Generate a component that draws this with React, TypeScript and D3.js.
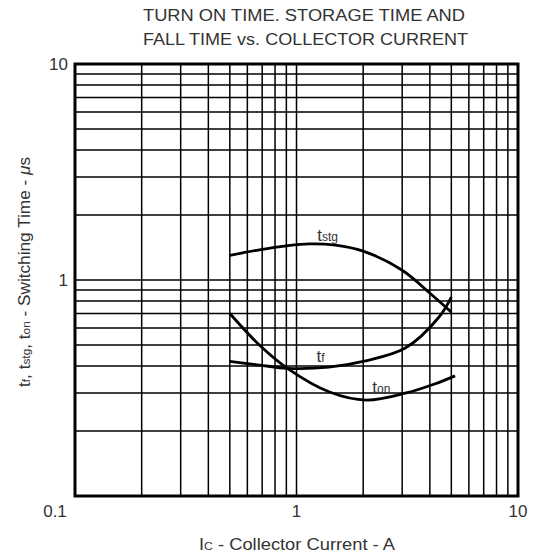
import React from "react";
import * as d3 from "d3";

const W = 536;
const H = 556;

// Ic (A) values
const tstgX = [0.5, 0.68, 0.9, 1.14, 1.5, 2.0, 3.0, 4.1, 5.0];
const tstgY = [1.3, 1.38, 1.44, 1.47, 1.45, 1.36, 1.11, 0.85, 0.71];

const tfX = [0.5, 0.68, 0.91, 1.4, 2.0, 3.1, 4.4, 5.0];
const tfY = [0.42, 0.404, 0.39, 0.395, 0.42, 0.484, 0.674, 0.834];

const tonX = [0.5, 0.68, 0.91, 1.41, 2.07, 3.13, 4.2, 5.2];
const tonY = [0.7, 0.5, 0.39, 0.303, 0.278, 0.3, 0.33, 0.36];

const gridTicks = [0.2, 0.3, 0.4, 0.5, 0.6, 0.7, 0.8, 0.9, 1, 2, 3, 4, 5, 6, 7, 8, 9];
const xLabels = [1, 10];
const yLabels = [1, 10];

const M = { left: 75, right: 518, top: 64, bottom: 496 };
const FONT = "'Liberation Sans', Arial, sans-serif";
const TXT = "#333";

export default function App() {
  const x = d3.scaleLog().domain([0.1, 10]).range([M.left, M.right]);
  const y = d3.scaleLog().domain([0.1, 10]).range([M.bottom, M.top]);

  const line = d3
    .line<[number, number]>()
    .x((d) => x(d[0]))
    .y((d) => y(d[1]))
    .curve(d3.curveCatmullRom.alpha(0.5));

  const pts = (xs: number[], ys: number[]) => xs.map((v, i) => [v, ys[i]] as [number, number]);

  return (
    <svg width={W} height={H} style={{ position: "absolute", left: 0, top: 0 }}>
      <rect width={W} height={H} fill="#fff" />
      <g fontFamily={FONT} fill={TXT} textAnchor="middle" fontSize={16}>
        <text x={304} y={21} textLength={322} lengthAdjust="spacingAndGlyphs">
          TURN ON TIME. STORAGE TIME AND
        </text>
        <text x={305.5} y={45} textLength={325} lengthAdjust="spacingAndGlyphs">
          FALL TIME vs. COLLECTOR CURRENT
        </text>
      </g>

      {/* grid */}
      <g stroke="#000" strokeWidth={1.5}>
        {gridTicks.map((t) => (
          <line key={"v" + t} x1={x(t)} x2={x(t)} y1={M.top} y2={M.bottom} />
        ))}
        {gridTicks.map((t) => (
          <line key={"h" + t} x1={M.left} x2={M.right} y1={y(t)} y2={y(t)} />
        ))}
      </g>
      <rect
        x={M.left}
        y={M.top}
        width={M.right - M.left}
        height={M.bottom - M.top}
        fill="none"
        stroke="#000"
        strokeWidth={3}
      />

      {/* curves */}
      <g fill="none" stroke="#000" strokeWidth={2.8}>
        <path d={line(pts(tstgX, tstgY)) || ""} />
        <path d={line(pts(tfX, tfY)) || ""} />
        <path d={line(pts(tonX, tonY)) || ""} />
      </g>

      {/* curve labels */}
      <g fontFamily={FONT} fill={TXT} fontSize={17}>
        <text x={x(1.24)} y={y(1.52)}>
          t<tspan fontSize={12}>stg</tspan>
        </text>
        <text x={x(1.23)} y={y(0.417)}>
          t<tspan fontSize={12}>f</tspan>
        </text>
        <text x={x(2.2)} y={y(0.3)}>
          t<tspan fontSize={12}>on</tspan>
        </text>
      </g>

      {/* tick labels */}
      <g fontFamily={FONT} fill={TXT} fontSize={17}>
        {xLabels.map((t) => (
          <text key={"xl" + t} x={x(t)} y={517} textAnchor="middle">
            {t}
          </text>
        ))}
        <text x={55} y={517} textAnchor="middle">0.1</text>
        {yLabels.map((t) => (
          <text key={"yl" + t} x={M.left - 7} y={y(t) + 6} textAnchor="end">
            {t}
          </text>
        ))}
      </g>

      {/* axis titles */}
      <text
        x={297}
        y={550}
        fontFamily={FONT}
        fill={TXT}
        fontSize={16.5}
        textAnchor="middle"
        textLength={196}
        lengthAdjust="spacingAndGlyphs"
      >
        I<tspan fontSize={11}>C</tspan> - Collector Current - A
      </text>
      <text
        transform={`translate(30, 272) rotate(-90)`}
        fontFamily={FONT}
        fill={TXT}
        fontSize={16}
        textAnchor="middle"
        textLength={230}
        lengthAdjust="spacingAndGlyphs"
      >
        t<tspan fontSize={11}>f</tspan>, t<tspan fontSize={11}>stg</tspan>, t
        <tspan fontSize={11}>on</tspan> - Switching Time - <tspan fontStyle="italic">μ</tspan>s
      </text>
    </svg>
  );
}
